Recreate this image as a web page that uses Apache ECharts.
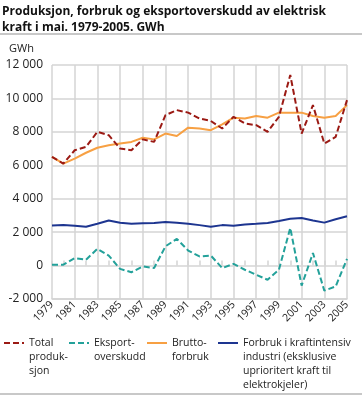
<!DOCTYPE html>
<html><head><meta charset="utf-8">
<script src="https://cdn.jsdelivr.net/npm/echarts@6/dist/echarts.min.js"></script>
<style>html,body{margin:0;padding:0;background:#fff}#c{width:362px;height:396px}</style>
</head><body><div id="c"></div>
<script>
const years = ['1979','1980','1981','1982','1983','1984','1985','1986','1987','1988','1989','1990','1991','1992','1993','1994','1995','1996','1997','1998','1999','2000','2001','2002','2003','2004','2005'];
const totalProduksjon = [6500,6100,6900,7100,8000,7800,7000,6900,7550,7400,9000,9300,9150,8800,8650,8200,8900,8500,8400,8000,8900,11400,7900,9600,7300,7700,9900];
const eksportoverskudd = [50,50,450,350,1000,600,-200,-400,-50,-150,1150,1600,900,550,600,-150,100,-250,-550,-850,-250,2250,-1200,750,-1500,-1250,400];
const bruttoforbruk = [6500,6100,6400,6750,7050,7200,7300,7400,7650,7550,7900,7750,8250,8200,8100,8450,8850,8800,8950,8850,9150,9150,9150,8950,8850,8950,9600];
const kraftintensiv = [2400,2430,2380,2320,2500,2700,2560,2500,2530,2550,2600,2560,2500,2420,2320,2420,2380,2460,2500,2550,2670,2800,2850,2700,2570,2770,2950];
const yTicks = {min:-2000, max:12000, interval:2000};
const names = ['Total\nproduk-\nsjon','Eksport-\noverskudd','Brutto-\nforbruk','Forbruk i kraftintensiv\nindustri (eksklusive\nuprioritert kraft til\nelektrokjeler)'];
const colors = ['#9b1a14','#23a19a','#f7a043','#1d3590'];
const FONT = 'Open Sans';
const LH = 14;
const ICON_Y = 343;
function legendFor(i, left){
  const n = names[i].split('\n').length;
  const pad = Array(n-1).fill(' ').join('\n') + '\n';
  return {
    data:[{name:names[i]}], left:left, top:ICON_Y - (2*n-1)*LH/2, orient:'horizontal', padding:0,
    itemWidth:20, itemHeight:LH, itemGap:0, selectedMode:false,
    itemStyle:{opacity:0},
    formatter: nm => pad + nm,
    textStyle:{fontFamily:FONT, fontSize:10.5, color:'#222', lineHeight:LH}
  };
}
const chart = echarts.init(document.getElementById('c'), null, {renderer:'canvas'});
chart.setOption({
  animation:false,
  title:{text:'Produksjon, forbruk og eksportoverskudd av elektrisk\nkraft i mai. 1979-2005. GWh', left:2, top:4, padding:0,
    textStyle:{fontFamily:FONT, fontSize:12, fontWeight:'bold', color:'#111', lineHeight:16}},
  graphic:[
    {type:'rect', shape:{x:0,y:33,width:362,height:2}, style:{fill:'#c8c8c8'}},
    {type:'rect', shape:{x:0,y:393,width:362,height:2}, style:{fill:'#c8c8c8'}},
    {type:'text', left:9, top:43, style:{text:'GWh', font:'11px "Open Sans"', fill:'#222'}}
  ],
  grid:{left:52, right:15, top:65, bottom:97, containLabel:false},
  legend:[legendFor(0,3), legendFor(1,68), legendFor(2,146), legendFor(3,217)],
  xAxis:[{
    type:'category', data:years, boundaryGap:false,
    axisLine:{show:true, onZero:false, lineStyle:{color:'#d4d4d4', width:1.5}},
    axisTick:{show:false},
    axisLabel:{interval:1, rotate:45, fontFamily:FONT, fontSize:10.5, color:'#222', margin:4},
    splitLine:{show:true, interval:1, lineStyle:{color:'#d4d4d4', width:1.5}}
  },{
    type:'category', data:years, boundaryGap:false, position:'bottom',
    axisLine:{show:false, onZero:true},
    axisTick:{show:true, inside:true, length:5, interval:0, lineStyle:{color:'#d4d4d4', width:1.5}},
    axisLabel:{show:false}, splitLine:{show:false}
  }],
  yAxis:{type:'value', min:yTicks.min, max:yTicks.max, interval:yTicks.interval,
    axisLine:{show:false}, axisTick:{show:false},
    axisLabel:{fontFamily:FONT, fontSize:12, color:'#222', margin:9,
      formatter:v=>{const s=Math.abs(v).toString(); const t=s.length>3?s.slice(0,-3)+' '+s.slice(-3):s; return (v<0?'-':'')+t;}},
    splitLine:{lineStyle:{color:'#d4d4d4', width:1.5}}
  },
  series:[
    {name:names[3], type:'line', data:kraftintensiv, showSymbol:false, lineStyle:{color:colors[3], width:2}, itemStyle:{color:colors[3]}},
    {name:names[2], type:'line', data:bruttoforbruk, showSymbol:false, lineStyle:{color:colors[2], width:2}, itemStyle:{color:colors[2]}},
    {name:names[1], type:'line', data:eksportoverskudd, showSymbol:false, lineStyle:{color:colors[1], width:2, type:[6,3]}, itemStyle:{color:colors[1]}},
    {name:names[0], type:'line', data:totalProduksjon, showSymbol:false, lineStyle:{color:colors[0], width:2, type:[6,3]}, itemStyle:{color:colors[0]}}
  ]
});
</script></body></html>
